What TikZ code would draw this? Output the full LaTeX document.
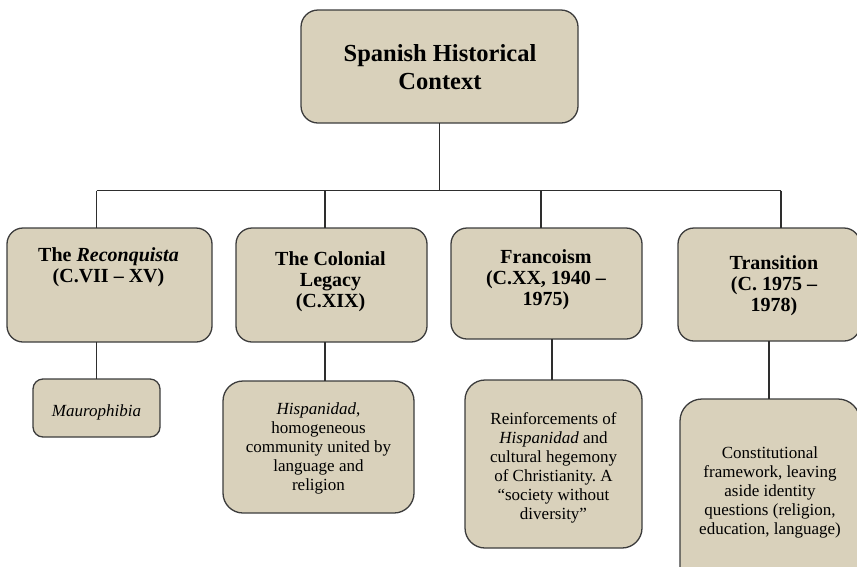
\documentclass[tikz,border=0pt]{standalone}
\usepackage{fontspec}
\setmainfont{Liberation Serif}
\frenchspacing
\definecolor{boxfill}{HTML}{D9D1BB}
\definecolor{boxline}{HTML}{3C3C3C}
\definecolor{conn}{HTML}{2E2E2E}
\tikzset{
  box/.style={draw=boxline, fill=boxfill, line width=1.3pt, inner sep=0pt, outer sep=0pt},
  conn/.style={draw=conn, line width=1.1pt},
  ttl/.style={inner sep=0pt, align=center, font=\fontsize{24.5}{28}\selectfont\bfseries},
  hd/.style={inner sep=0pt, align=center, font=\fontsize{20}{21}\selectfont\bfseries},
  bd/.style={inner sep=0pt, align=center, font=\fontsize{17}{19}\selectfont},
}
\begin{document}
\begin{tikzpicture}[x=1pt,y=-1pt]
\useasboundingbox (0,0) rectangle (857,566);
\clip (0,0) rectangle (857,566);
% boxes
\node[box, rounded corners=17pt, minimum width=277pt, minimum height=113pt] (top) at (439.5,66.5) {};
\node[box, rounded corners=16pt, minimum width=205pt, minimum height=114pt] (rq) at (109.5,285) {};
\node[box, rounded corners=16pt, minimum width=191pt, minimum height=114pt] (cl) at (331.5,285) {};
\node[box, rounded corners=16pt, minimum width=191pt, minimum height=111pt] (fr) at (546.5,283.5) {};
\node[box, rounded corners=16pt, minimum width=182pt, minimum height=113pt] (tr) at (769,284.5) {};
\node[box, rounded corners=10pt, minimum width=127pt, minimum height=58pt] (mau) at (96.5,408) {};
\node[box, rounded corners=20pt, minimum width=191pt, minimum height=132pt] (his) at (318.5,447) {};
\node[box, rounded corners=20pt, minimum width=177pt, minimum height=168pt] (rei) at (553.5,464) {};
\node[box, rounded corners=22pt, minimum width=180pt, minimum height=190pt] (con) at (770,494) {};
% texts
\node[ttl] (topt) at (440,67) {Spanish Historical\\Context};
\node[hd] (rqt) at (108.5,267) {The \textit{Reconquista}\\(C.VII -- XV)};
\node[hd] (clt) at (330.5,282) {The Colonial\\Legacy\\(C.XIX)};
\node[hd] (frt) at (546,280) {Francoism\\(C.XX, 1940 --\\1975)};
\node[hd] (trt) at (774,286) {Transition\\(C. 1975 --\\1978)};
\node[bd] (maut) at (96.5,412) {\textit{Maurophibia}};
\node[bd] (hist) at (318.5,448) {\textit{Hispanidad},\\homogeneous\\community united by\\language and\\religion};
\node[bd] (reit) at (553.5,468) {Reinforcements of\\\textit{Hispanidad} and\\cultural hegemony\\of Christianity. A\\``society without\\diversity''};
\node[bd] (cont) at (770,492) {Constitutional\\framework, leaving\\aside identity\\questions (religion,\\education, language)};
% connectors
\coordinate (b0) at (439.5,190.5);
\coordinate (b1) at (96.5,190.5);
\coordinate (b2) at (325,190.5);
\coordinate (b3) at (541,190.5);
\coordinate (b4) at (781,190.5);
\coordinate (d1) at (96.5,0);
\coordinate (d2) at (325,0);
\coordinate (d3) at (552,0);
\coordinate (d4) at (769,0);
\draw[conn] (top.south) -- (b0);
\draw[conn] (b1) -- (b4);
\draw[conn] (b1) -- (b1 |- rq.north);
\draw[conn] (b2) -- (b2 |- cl.north);
\draw[conn] (b3) -- (b3 |- fr.north);
\draw[conn] (b4) -- (b4 |- tr.north);
\draw[conn] (d1 |- rq.south) -- (d1 |- mau.north);
\draw[conn] (d2 |- cl.south) -- (d2 |- his.north);
\draw[conn] (d3 |- fr.south) -- (d3 |- rei.north);
\draw[conn] (d4 |- tr.south) -- (d4 |- con.north);
\end{tikzpicture}
\end{document}
